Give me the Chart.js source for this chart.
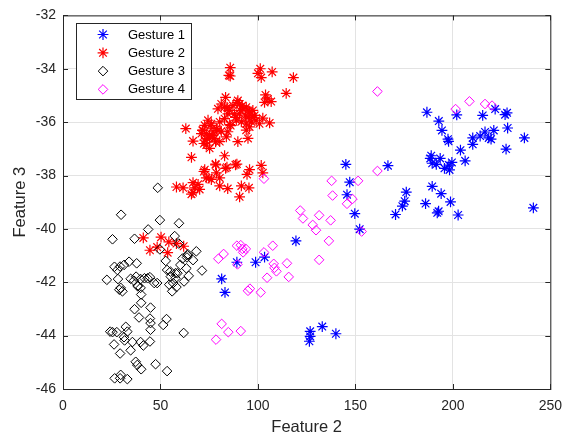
<!DOCTYPE html>
<html>
<head>
<meta charset="utf-8">
<script src="https://cdn.jsdelivr.net/npm/chart.js@4.4.1/dist/chart.umd.min.js"></script>
<style>
  body { margin: 0; background: #fff; }
  #wrap { width: 571px; height: 437px; }
</style>
</head>
<body>
<div id="wrap"><canvas id="chart" width="571" height="437"></canvas></div>
<script>
// axis ticks
const xTicks = [0, 50, 100, 150, 200, 250];
const yTicks = [-46, -44, -42, -40, -38, -36, -34, -32];
const seriesNames = ['Gesture 1', 'Gesture 2', 'Gesture 3', 'Gesture 4'];

// Gesture 1 (blue *)
const g1x = [186.7, 192.8, 194.4, 202.0, 215.3, 226.8, 227.8, 221.7, 216.5, 221.0, 228.1, 236.7, 197.8, 197.5, 210.2, 214.0, 219.6, 218.4, 210.2, 227.3,
  203.9, 206.3, 188.4, 189.4, 193.5, 191.5, 195.7, 198.0, 199.5, 198.3, 188.9, 145.1, 166.7, 147.1, 145.7, 149.7, 152.2, 189.4, 194.0, 176.1,
  175.3, 174.1, 170.6, 186.0, 198.8, 192.0, 192.7, 202.7, 241.3, 119.5, 103.4, 98.8, 89.2, 81.4, 83.1, 126.8, 126.8, 126.4, 133.0, 140.0];
const g1y = [-35.63, -35.96, -36.31, -35.73, -35.75, -35.72, -35.65, -35.51, -36.37, -36.31, -36.22, -36.59, -36.72, -36.64, -36.59, -36.52, -36.64, -36.59, -36.83, -37.01,
  -37.05, -37.45, -37.36, -37.54, -37.36, -37.58, -37.73, -37.61, -37.51, -37.79, -37.26, -37.58, -37.63, -38.25, -38.72, -39.43, -40.01, -38.41, -38.68, -38.62,
  -38.96, -39.15, -39.46, -39.05, -38.99, -39.40, -39.34, -39.48, -39.21, -40.45, -41.06, -41.25, -41.25, -41.87, -42.38, -43.84, -44.03, -44.21, -43.66, -43.93];

// Gesture 2 (red *)
const g2x = [85.8, 85.1, 85.8, 101.2, 100.0, 101.7, 107.3, 118.2, 114.5, 103.9, 105.1, 106.8, 103.4, 83.4, 81.2, 79.5, 82.9, 85.5, 87.2, 89.7,
  90.6, 92.3, 94.0, 95.7, 97.4, 98.3, 94.9, 90.6, 88.0, 84.6, 82.9, 85.5, 88.9, 91.5, 94.0, 96.6, 99.1, 100.8, 102.5, 106.0,
  74.4, 76.1, 72.7, 71.8, 73.5, 75.2, 71.0, 77.0, 78.7, 80.4, 81.2, 83.8, 84.6, 75.2, 77.8, 72.7, 73.5, 75.2, 66.7, 80.4,
  89.7, 94.9, 94.0, 95.7, 63.0, 65.9, 82.9, 78.3, 84.1, 89.2, 72.7, 73.5, 78.7, 80.4, 76.1, 95.7, 94.4, 101.7, 102.5, 80.4,
  84.5, 91.5, 95.4, 90.6, 58.2, 61.6, 66.7, 67.6, 69.3, 70.1, 65.9, 66.7, 75.8, 71.5, 74.0, 76.6, 72.3, 78.3, 79.1, 91.1,
  93.6, 95.3, 88.5, 91.9, 89.3, 84.2, 97.0, 86.0, 72.3, 74.9, 78.3, 83.4, 88.5, 41.2, 50.3, 54.3, 58.2, 61.9, 44.6, 53.7, 48.3];
const g2y = [-33.96, -34.25, -34.27, -34.00, -34.17, -34.33, -34.12, -34.33, -34.92, -34.98, -35.13, -35.23, -35.26, -35.07, -35.32, -35.50, -35.44, -35.56, -35.38, -35.19,
  -35.32, -35.50, -35.44, -35.62, -35.56, -35.75, -35.81, -35.69, -35.69, -35.69, -35.87, -36.09, -35.93, -35.99, -36.06, -35.99, -35.93, -36.06, -35.85, -36.03,
  -35.93, -36.06, -36.12, -36.30, -36.43, -36.49, -36.43, -36.36, -36.24, -35.99, -36.34, -36.55, -36.36, -36.61, -36.61, -36.67, -36.86, -36.98, -36.71, -36.73,
  -36.73, -36.61, -36.30, -36.18, -36.24, -37.32, -37.26, -37.57, -37.69, -37.57, -37.78, -38.09, -37.90, -38.09, -38.15, -37.78, -37.96, -37.62, -37.90, -38.39,
  -38.49, -38.39, -38.46, -38.80, -38.43, -38.46, -38.27, -38.46, -38.33, -38.52, -38.70, -38.64, -36.13, -36.31, -36.62, -36.50, -36.80, -36.74, -36.31, -35.57,
  -35.76, -35.57, -35.82, -35.39, -35.27, -35.45, -35.82, -36.13, -37.85, -38.10, -37.60, -37.73, -37.60, -40.34, -40.31, -40.49, -40.55, -40.65, -40.80, -40.89, -40.68];

// Gesture 3 (black diamonds)
const g3x = [29.8, 49.7, 59.5, 43.7, 25.4, 36.7, 57.3, 59.4, 49.7, 52.7, 64.1, 68.4, 63.6, 66.7, 37.8, 33.9, 31.3, 29.3, 27.9, 53.4,
  55.1, 57.7, 60.2, 63.3, 64.5, 71.3, 57.7, 56.5, 58.2, 56.0, 22.5, 28.2, 34.7, 36.4, 39.8, 41.8, 44.6, 48.3, 38.4, 39.8,
  29.6, 30.5, 40.1, 36.7, 40.1, 44.9, 39.0, 44.6, 44.9, 53.1, 51.4, 44.9, 61.9, 24.2, 25.4, 27.6, 32.2, 33.0, 31.3, 31.6,
  26.2, 35.6, 39.8, 44.6, 41.2, 34.7, 29.3, 37.3, 38.1, 40.1, 47.5, 53.4, 26.5, 29.6, 29.3, 33.0, 48.6, 26.4, 37.5, 43.4,
  46.8, 38.3, 28.9, 58.7, 55.3, 61.3, 63.8, 54.5, 62.1];
const g3y = [-39.47, -39.67, -39.79, -40.02, -40.39, -40.37, -40.27, -40.55, -40.77, -41.20, -40.95, -40.84, -41.07, -41.17, -41.29, -41.23, -41.35, -41.41, -41.54, -41.54,
  -41.60, -41.66, -41.35, -41.48, -41.76, -41.56, -41.85, -42.03, -42.18, -42.34, -41.91, -41.88, -41.87, -41.94, -41.88, -41.85, -41.81, -42.03, -42.13, -42.21,
  -42.21, -42.34, -42.46, -43.01, -42.77, -42.95, -43.32, -43.36, -43.53, -43.38, -43.60, -43.78, -43.90, -43.85, -43.87, -43.87, -43.67, -43.85, -44.06, -44.18,
  -44.33, -44.24, -44.24, -44.22, -44.37, -44.55, -44.67, -44.98, -45.10, -45.26, -45.07, -45.33, -45.60, -45.47, -45.60, -45.63, -38.46, -41.42, -41.79, -41.85,
  -42.03, -42.15, -42.28, -41.66, -41.79, -41.11, -40.99, -42.09, -41.97];

// Gesture 4 (magenta diamonds)
const g4x = [161.3, 201.4, 208.5, 216.5, 220.1, 161.3, 151.4, 148.5, 145.7, 153.2, 103.1, 137.8, 138.3, 121.7, 123.1, 131.4, 137.3, 128.1, 129.8, 136.4,
  131.4, 89.2, 91.2, 92.0, 93.8, 92.4, 82.4, 79.7, 89.5, 103.1, 107.6, 108.1, 108.5, 109.5, 114.9, 115.8, 104.7, 94.9, 95.9, 101.4,
  81.4, 84.8, 91.2, 78.5];
const g4y = [-34.85, -35.51, -35.22, -35.32, -35.38, -37.83, -38.20, -38.88, -39.06, -40.10, -38.12, -38.20, -38.75, -39.31, -39.61, -39.49, -39.68, -39.85, -40.05, -40.45,
  -41.16, -40.63, -40.61, -40.75, -40.75, -40.88, -40.94, -41.12, -41.33, -40.88, -40.63, -41.31, -41.46, -41.59, -41.29, -41.80, -41.83, -42.32, -42.24, -42.38,
  -43.56, -43.87, -43.83, -44.15];

const pts = (xs, ys) => xs.map((x, i) => ({ x: x, y: ys[i] }));
const axisColor = '#262626';
const fontFam = '"Liberation Sans", Arial, Helvetica, sans-serif';

// box + inward ticks like matlab, then legend inside the axes
const boxPlugin = {
    id: 'box',
    afterDatasetsDraw(chart) {
        const { ctx, chartArea: a, scales } = chart;
        ctx.save();
        ctx.strokeStyle = axisColor;
        ctx.lineWidth = 1;
        ctx.strokeRect(a.left + 0.5, a.top + 0.5, a.right - a.left, a.bottom - a.top);
        ctx.beginPath();
        xTicks.forEach(v => {
            const px = Math.round(scales.x.getPixelForValue(v)) + 0.5;
            ctx.moveTo(px, a.bottom); ctx.lineTo(px, a.bottom - 5);
            ctx.moveTo(px, a.top); ctx.lineTo(px, a.top + 5);
        });
        yTicks.forEach(v => {
            const py = Math.round(scales.y.getPixelForValue(v)) + 0.5;
            ctx.moveTo(a.left, py); ctx.lineTo(a.left + 5, py);
            ctx.moveTo(a.right, py); ctx.lineTo(a.right - 5, py);
        });
        ctx.stroke();

        // legend
        const lx = 76.5, ly = 23.5, lw = 115, lh = 76;
        ctx.fillStyle = '#fff';
        ctx.fillRect(lx, ly, lw, lh);
        ctx.strokeStyle = axisColor;
        ctx.strokeRect(lx, ly, lw, lh);
        ctx.font = '13px ' + fontFam;
        ctx.textBaseline = 'middle';
        chart.data.datasets.forEach((ds, i) => {
            const cy = ly + 11 + i * 18.3;
            ctx.strokeStyle = ds.borderColor;
            ctx.fillStyle = 'rgba(0,0,0,0)';
            ctx.lineWidth = ds.borderWidth;
            Chart.helpers.drawPoint(ctx, { pointStyle: ds.pointStyle, radius: ds.pointRadius, borderWidth: ds.borderWidth }, lx + 26.5, cy);
            ctx.fillStyle = '#000';
            ctx.fillText(ds.label, lx + 51.5, cy + 0.5);
        });
        ctx.restore();
    }
};

const colors = ['#0000ff', '#ff0000', '#000000', '#ff00ff'];
const styles = ['star', 'star', 'rectRot', 'rectRot'];
const radii = [5.4, 5.4, 4.8, 4.8];
const allX = [g1x, g2x, g3x, g4x], allY = [g1y, g2y, g3y, g4y];

new Chart(document.getElementById('chart'), {
    type: 'scatter',
    data: {
        datasets: seriesNames.map((name, i) => ({
            label: name,
            data: pts(allX[i], allY[i]),
            pointStyle: styles[i],
            pointRadius: radii[i],
            borderColor: colors[i],
            backgroundColor: 'rgba(0,0,0,0)',
            borderWidth: i < 2 ? 1.2 : 1,
            order: 4 - i
        }))
    },
    options: {
        responsive: false,
        animation: false,
        events: [],
        layout: { padding: { top: 12, right: 20.5, left: 0, bottom: 0 } },
        plugins: { legend: { display: false }, tooltip: { enabled: false } },
        scales: {
            x: {
                type: 'linear', min: 0, max: 250,
                afterBuildTicks: s => { s.ticks = xTicks.map(v => ({ value: v })); },
                afterFit: s => { s.height = 48; },
                grid: { color: '#e3e3e3', drawTicks: false },
                border: { display: false },
                ticks: { color: axisColor, font: { family: fontFam, size: 14 }, padding: 9, maxRotation: 0 },
                title: { display: true, text: 'Feature 2', color: axisColor, font: { family: fontFam, size: 16.5, lineHeight: 1.1 }, padding: { top: 0, bottom: 0 } }
            },
            y: {
                type: 'linear', min: -46, max: -32,
                afterBuildTicks: s => { s.ticks = yTicks.map(v => ({ value: v })); },
                afterFit: s => { s.width = 63; },
                grid: { color: '#e3e3e3', drawTicks: false },
                border: { display: false },
                ticks: { color: axisColor, font: { family: fontFam, size: 14 }, padding: 7 },
                title: { display: true, text: 'Feature 3', color: axisColor, font: { family: fontFam, size: 16.5, lineHeight: 1.1 }, padding: { top: 11.5, bottom: 0 } }
            }
        }
    },
    plugins: [boxPlugin]
});
</script>
</body>
</html>
